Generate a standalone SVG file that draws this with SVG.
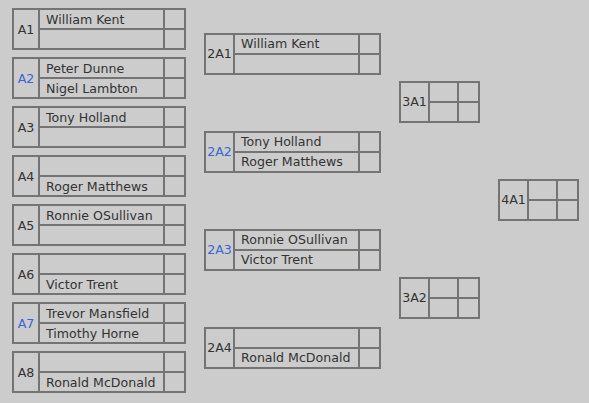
<svg xmlns="http://www.w3.org/2000/svg" width="589" height="403" viewBox="0 0 589 403">
<style>
.bg{fill:#cccccc}
.box{fill:#cccccc;stroke:#747474;stroke-width:2}
.ln{stroke:#747474;stroke-width:2;fill:none}
text{font-family:"DejaVu Sans","Liberation Sans",sans-serif;font-size:12.6px;fill:#333333}
.lbl{text-anchor:middle}
.blue{fill:#3a66d4}
</style>
<rect class="bg" x="0" y="0" width="589" height="403"/>
<g id="connectors"/>
<g id="A1"><rect class="box" x="13" y="9" width="172" height="40"/><path class="ln" d="M39 9V49M164 9V49M39 29H185"/><text class="lbl" x="26" y="34">A1</text><text x="46" y="24">William Kent</text></g>
<g id="A2"><rect class="box" x="13" y="58" width="172" height="40"/><path class="ln" d="M39 58V98M164 58V98M39 78H185"/><text class="lbl blue" x="26" y="83">A2</text><text x="46" y="73">Peter Dunne</text><text x="46" y="93">Nigel Lambton</text></g>
<g id="A3"><rect class="box" x="13" y="107" width="172" height="40"/><path class="ln" d="M39 107V147M164 107V147M39 127H185"/><text class="lbl" x="26" y="132">A3</text><text x="46" y="122">Tony Holland</text></g>
<g id="A4"><rect class="box" x="13" y="156" width="172" height="40"/><path class="ln" d="M39 156V196M164 156V196M39 176H185"/><text class="lbl" x="26" y="181">A4</text><text x="46" y="191">Roger Matthews</text></g>
<g id="A5"><rect class="box" x="13" y="205" width="172" height="40"/><path class="ln" d="M39 205V245M164 205V245M39 225H185"/><text class="lbl" x="26" y="230">A5</text><text x="46" y="220">Ronnie OSullivan</text></g>
<g id="A6"><rect class="box" x="13" y="254" width="172" height="40"/><path class="ln" d="M39 254V294M164 254V294M39 274H185"/><text class="lbl" x="26" y="279">A6</text><text x="46" y="289">Victor Trent</text></g>
<g id="A7"><rect class="box" x="13" y="303" width="172" height="40"/><path class="ln" d="M39 303V343M164 303V343M39 323H185"/><text class="lbl blue" x="26" y="328">A7</text><text x="46" y="318">Trevor Mansfield</text><text x="46" y="338">Timothy Horne</text></g>
<g id="A8"><rect class="box" x="13" y="352" width="172" height="40"/><path class="ln" d="M39 352V392M164 352V392M39 372H185"/><text class="lbl" x="26" y="377">A8</text><text x="46" y="387">Ronald McDonald</text></g>
<g id="2A1"><rect class="box" x="205" y="34" width="175" height="40"/><path class="ln" d="M234 34V74M359 34V74M234 54H380"/><text class="lbl" x="219.5" y="58">2A1</text><text x="241" y="48">William Kent</text></g>
<g id="2A2"><rect class="box" x="205" y="132" width="175" height="40"/><path class="ln" d="M234 132V172M359 132V172M234 152H380"/><text class="lbl blue" x="219.5" y="156">2A2</text><text x="241" y="146">Tony Holland</text><text x="241" y="166">Roger Matthews</text></g>
<g id="2A3"><rect class="box" x="205" y="230" width="175" height="40"/><path class="ln" d="M234 230V270M359 230V270M234 250H380"/><text class="lbl blue" x="219.5" y="254">2A3</text><text x="241" y="244">Ronnie OSullivan</text><text x="241" y="264">Victor Trent</text></g>
<g id="2A4"><rect class="box" x="205" y="328" width="175" height="40"/><path class="ln" d="M234 328V368M359 328V368M234 348H380"/><text class="lbl" x="219.5" y="352">2A4</text><text x="241" y="362">Ronald McDonald</text></g>
<g id="3A1"><rect class="box" x="400" y="82" width="79" height="40"/><path class="ln" d="M429 82V122M458 82V122M429 102H479"/><text class="lbl" x="414.5" y="106">3A1</text></g>
<g id="3A2"><rect class="box" x="400" y="278" width="79" height="40"/><path class="ln" d="M429 278V318M458 278V318M429 298H479"/><text class="lbl" x="414.5" y="302">3A2</text></g>
<g id="4A1"><rect class="box" x="499" y="180" width="79" height="40"/><path class="ln" d="M528 180V220M557 180V220M528 200H578"/><text class="lbl" x="513.5" y="204">4A1</text></g>
</svg>
